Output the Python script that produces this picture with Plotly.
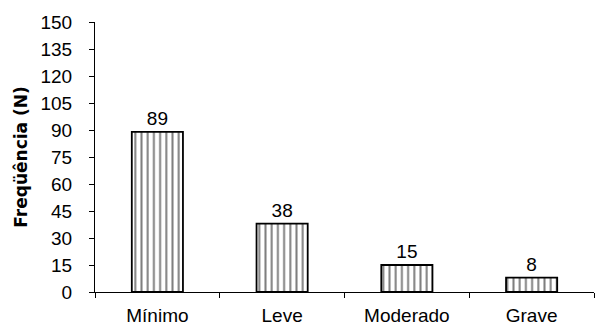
import plotly.graph_objects as go

categories = ["Mínimo", "Leve", "Moderado", "Grave"]
values = [89, 38, 15, 8]
y_ticks = list(range(0, 151, 15))

FONT = "Liberation Sans, Arial"

fig = go.Figure(go.Bar(
    x=categories, y=values,
    width=0.41,
    marker=dict(color="white", line=dict(color="black", width=1.8),
                pattern=dict(shape="|", size=6.2, solidity=0.32, fgcolor="black", bgcolor="white")),
    text=[str(v) for v in values], textposition="outside",
    textfont=dict(size=19, color="black", family=FONT),
    cliponaxis=False,
))

fig.update_layout(
    width=595, height=327,
    margin=dict(l=95, r=1, t=22, b=35),
    paper_bgcolor="white", plot_bgcolor="white",
    font=dict(family=FONT, size=19, color="black"),
    showlegend=False,
)
fig.update_xaxes(
    range=[-0.5, 3.5], tickson="boundaries", ticks="outside", ticklen=5,
    tickcolor="black", showline=True, linecolor="black", linewidth=1,
    showgrid=False, tickfont=dict(size=19), ticklabelstandoff=6,
    automargin=False,
)
fig.update_yaxes(
    range=[0, 150], tickvals=y_ticks, ticks="outside", ticklen=5,
    tickcolor="black", showline=True, linecolor="black", linewidth=1,
    showgrid=False, zeroline=False, tickfont=dict(size=19), ticklabelstandoff=13,
    automargin=False,
    title=dict(text="<b>Freqüência (N)</b>",
               font=dict(size=17, family="DejaVu Sans"), standoff=8),
)

fig.write_html("out.html", config={"displayModeBar": False},
               post_script="document.body.style.margin='0';")
